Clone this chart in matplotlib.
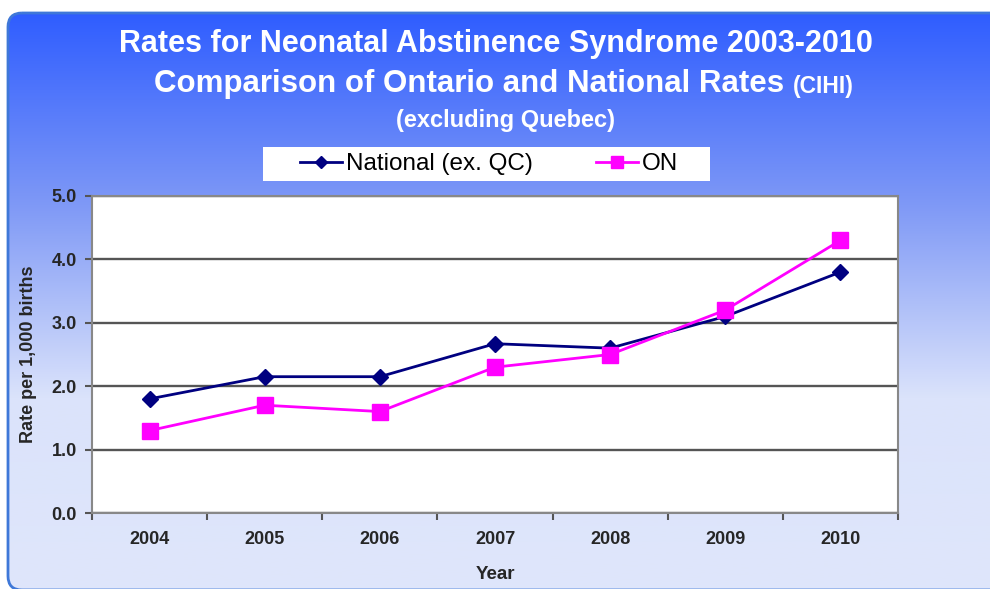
import matplotlib.pyplot as plt
import numpy as np
from matplotlib.colors import LinearSegmentedColormap
from matplotlib.patches import FancyBboxPatch, Rectangle

years = ["2004", "2005", "2006", "2007", "2008", "2009", "2010"]
national = [1.8, 2.15, 2.15, 2.67, 2.6, 3.1, 3.8]
ontario = [1.3, 1.7, 1.6, 2.3, 2.5, 3.2, 4.3]
y_ticks = [0.0, 1.0, 2.0, 3.0, 4.0, 5.0]

W, H = 990, 589
plt.rcParams["font.family"] = ["Liberation Sans", "DejaVu Sans"]
fig = plt.figure(figsize=(W / 100, H / 100), dpi=100)
fig.patch.set_facecolor("white")

# background panel: vertical gradient with rounded corners, in pixel coords
bg = fig.add_axes([0, 0, 1, 1])
bg.set_xlim(0, W)
bg.set_ylim(H, 0)
bg.axis("off")
grad_cmap = LinearSegmentedColormap.from_list("panel", ["#2f5dff", "#7f99f6", "#dbe3fb", "#dfe6fb"])
grad = np.linspace(0, 1, 256).reshape(-1, 1)
img = bg.imshow(grad, cmap=grad_cmap, extent=[7, W + 30, H + 2, 12], aspect="auto", zorder=0)
panel = FancyBboxPatch((8, 13), W + 40, H - 12, boxstyle="round,pad=0,rounding_size=14",
                       facecolor="none", edgecolor="#3f78d8", linewidth=2, zorder=1)
bg.add_patch(panel)
img.set_clip_path(panel)

# titles
title_kw = dict(color="white", fontweight="bold", va="center")
bg.text(W / 2 + 1, 44, "Rates for Neonatal Abstinence Syndrome 2003-2010", fontsize=22,
        ha="center", **title_kw)
main2 = bg.text(0, 84, "Comparison of Ontario and National Rates", fontsize=22.5, ha="left", **title_kw)
cihi = bg.text(0, 86, "(CIHI)", fontsize=16.5, ha="left", **title_kw)
bg.text(506, 120, "(excluding Quebec)", fontsize=17, ha="center", **title_kw)

renderer = fig.canvas.get_renderer()
w_main = main2.get_window_extent(renderer).width
w_cihi = cihi.get_window_extent(renderer).width
gap = 8
start = 504 - (w_main + gap + w_cihi) / 2
main2.set_x(start)
cihi.set_x(start + w_main + gap)

# legend box
bg.add_patch(Rectangle((263, 147), 447, 34, facecolor="white", edgecolor="none", zorder=2))

ax = fig.add_axes([92 / W, 1 - 513 / H, (898 - 92) / W, (513 - 196) / H])
ax.set_facecolor("white")
x = np.arange(len(years))
ln1, = ax.plot(x, national, color="#000080", linewidth=2, marker="D", markersize=8,
               label="National (ex. QC)", zorder=3)
ln2, = ax.plot(x, ontario, color="#ff00ff", linewidth=2, marker="s", markersize=11,
               label="ON", zorder=3)

ax.set_xlim(-0.5, len(years) - 0.5)
ax.set_ylim(0, 5)
ax.set_yticks(y_ticks)
ax.set_yticklabels([f"{v:.1f}" for v in y_ticks])
ax.set_xticks(np.arange(-0.5, len(years), 1.0))
ax.set_xticklabels([])
ax.set_xticks(x, minor=True)
ax.set_xticklabels(years, minor=True)
ax.tick_params(axis="x", which="minor", length=0, pad=13)
ax.tick_params(axis="y", pad=6)
ax.tick_params(axis="both", which="major", direction="out", length=5, width=1.5, color="#555555")
for lab in ax.get_xticklabels(minor=True) + ax.get_yticklabels():
    lab.set_fontweight("bold")
    lab.set_fontsize(13)
    lab.set_color("#262626")
ax.grid(axis="y", color="#555555", linewidth=1.7)
ax.set_axisbelow(True)
for side in ["left", "right", "top", "bottom"]:
    ax.spines[side].set_color("#888888")
    ax.spines[side].set_linewidth(1.5)

ax.set_xlabel("Year", fontsize=13.5, fontweight="bold", color="#262626", labelpad=13)
ax.set_ylabel("Rate per 1,000 births", fontsize=13, fontweight="bold", color="#262626", labelpad=10)

leg = fig.legend(handles=[ln1, ln2], loc="center", bbox_to_anchor=(489 / W, 1 - 164 / H),
                 ncol=2, frameon=False, fontsize=17.5, handlelength=1.75,
                 columnspacing=2.6, handletextpad=0.15, markerscale=0.8)

fig.savefig("out.png", dpi=100)
